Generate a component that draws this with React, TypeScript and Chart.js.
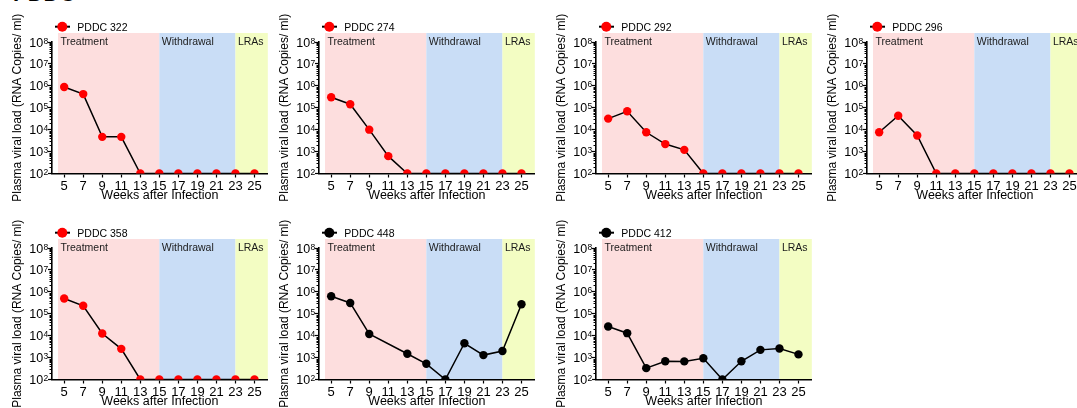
import React, { useEffect, useRef } from 'react';
import { Chart, registerables } from 'chart.js';

Chart.register(...registerables);

const FONT = '"Liberation Sans", Arial, Helvetica, sans-serif';

// ---- data ----
const weeks = [5, 7, 9, 11, 13, 15, 17, 19, 21, 23, 25];
const xTickWeeks = [5, 7, 9, 11, 13, 15, 17, 19, 21, 23, 25];
const yTickExponents = [2, 3, 4, 5, 6, 7, 8];

const phaseNames = ['Treatment', 'Withdrawal', 'LRAs'];
const phaseStarts = [4.35, 15, 23];
const phaseEnds = [15, 23, 26.4];

const pddc322 = [8.9e5, 4.2e5, 4.7e3, 4.7e3, 100, 100, 100, 100, 100, 100, 100];
const pddc274 = [3.0e5, 1.45e5, 1.0e4, 6.2e2, 100, 100, 100, 100, 100, 100, 100];
const pddc292 = [3.2e4, 6.9e4, 7.6e3, 2.2e3, 1.2e3, 100, 100, 100, 100, 100, 100];
const pddc296 = [7.6e3, 4.3e4, 5.4e3, 100, 100, 100, 100, 100, 100, 100, 100];
const pddc358 = [5.0e5, 2.3e5, 1.25e4, 2.5e3, 100, 100, 100, 100, 100, 100, 100];
const pddc448 = [6.3e5, 3.1e5, 1.2e4, null, 1.5e3, 5.2e2, 100, 4.5e3, 1.3e3, 2.0e3, 2.7e5];
const pddc412 = [2.6e4, 1.3e4, 3.3e2, 6.8e2, 6.7e2, 9.3e2, 100, 6.8e2, 2.25e3, 2.6e3, 1.4e3];

// ---- styles / layout ----
const phaseColors = ['#FDDEDE', '#C9DDF6', '#F3FDC3'];
const colLefts = [0, 267, 544, 815];
const rowTops = [0, 206];
const CW = 272;
const CH = 204;

type PanelDef = { label: string; values: (number | null)[]; marker: string; col: number; row: number };

const panels: PanelDef[] = [
  { label: 'PDDC 322', values: pddc322, marker: '#FF0000', col: 0, row: 0 },
  { label: 'PDDC 274', values: pddc274, marker: '#FF0000', col: 1, row: 0 },
  { label: 'PDDC 292', values: pddc292, marker: '#FF0000', col: 2, row: 0 },
  { label: 'PDDC 296', values: pddc296, marker: '#FF0000', col: 3, row: 0 },
  { label: 'PDDC 358', values: pddc358, marker: '#FF0000', col: 0, row: 1 },
  { label: 'PDDC 448', values: pddc448, marker: '#000000', col: 1, row: 1 },
  { label: 'PDDC 412', values: pddc412, marker: '#000000', col: 2, row: 1 },
];

function decoPlugin(label: string, marker: string) {
  return {
    id: 'panelDeco',
    beforeDraw(chart: any) {
      const { ctx, chartArea } = chart;
      const x = chart.scales.x;
      const top = chartArea.top - 9;
      ctx.save();
      phaseStarts.forEach((s, i) => {
        const x0 = x.getPixelForValue(s);
        const x1 = x.getPixelForValue(phaseEnds[i]);
        ctx.fillStyle = phaseColors[i];
        ctx.fillRect(x0, top, x1 - x0, chartArea.bottom - top);
      });
      ctx.fillStyle = '#1a1a1a';
      ctx.font = `10.5px ${FONT}`;
      ctx.textAlign = 'left';
      ctx.textBaseline = 'alphabetic';
      phaseNames.forEach((n, i) => {
        ctx.fillText(n, x.getPixelForValue(phaseStarts[i]) + 2.5, chartArea.top + 2.5);
      });
      ctx.restore();
    },
    afterDraw(chart: any) {
      const { ctx, chartArea } = chart;
      const y = chart.scales.y;
      ctx.save();
      // minor log ticks
      ctx.strokeStyle = '#000';
      ctx.lineWidth = 1;
      for (let p = 2; p < 8; p++) {
        for (let k = 2; k <= 9; k++) {
          const yy = Math.round(y.getPixelForValue(k * Math.pow(10, p))) + 0.5;
          ctx.beginPath();
          ctx.moveTo(chartArea.left - 2.5, yy);
          ctx.lineTo(chartArea.left, yy);
          ctx.stroke();
        }
      }
      // y tick labels 10^n
      ctx.fillStyle = '#000';
      ctx.textAlign = 'right';
      ctx.textBaseline = 'alphabetic';
      yTickExponents.forEach((e) => {
        const yy = y.getPixelForValue(Math.pow(10, e));
        const sup = String(e);
        ctx.font = `8.5px ${FONT}`;
        const sw = ctx.measureText(sup).width;
        const xr = chartArea.left - 3.7;
        ctx.fillText(sup, xr, yy + 1.6);
        ctx.font = `12.5px ${FONT}`;
        ctx.fillText('10', xr - sw - 0.3, yy + 4.5);
      });
      // legend
      const lx = chartArea.left;
      const ly = chartArea.top - 15.3;
      ctx.strokeStyle = '#000';
      ctx.lineWidth = 2;
      ctx.beginPath();
      ctx.moveTo(lx + 3, ly);
      ctx.lineTo(lx + 18, ly);
      ctx.stroke();
      ctx.fillStyle = marker;
      ctx.beginPath();
      ctx.arc(lx + 10.3, ly, 5, 0, Math.PI * 2);
      ctx.fill();
      ctx.fillStyle = '#000';
      ctx.font = `10.5px ${FONT}`;
      ctx.textAlign = 'left';
      ctx.fillText(label, lx + 25.3, chartArea.top - 11.3);
      ctx.restore();
    },
  };
}

function Panel({ def }: { def: PanelDef }) {
  const ref = useRef<HTMLCanvasElement>(null);
  useEffect(() => {
    const canvas = ref.current!;
    const chart = new Chart(canvas, {
      type: 'line',
      data: {
        datasets: [
          {
            label: def.label,
            data: weeks.map((w, i) => ({ x: w, y: def.values[i] })) as any,
            borderColor: '#000',
            borderWidth: 1.5,
            pointRadius: 4.2,
            pointBackgroundColor: def.marker,
            pointBorderColor: def.marker,
            pointBorderWidth: 0,
            spanGaps: true,
            tension: 0,
          },
        ],
      },
      options: {
        responsive: false,
        animation: false,
        devicePixelRatio: 1,
        events: [],
        layout: { padding: { top: 42, left: 0, right: 4, bottom: 0.5 } },
        plugins: { legend: { display: false }, tooltip: { enabled: false } },
        scales: {
          x: {
            type: 'linear',
            min: 3.72,
            max: 26.4,
            afterBuildTicks: (s: any) => {
              s.ticks = xTickWeeks.map((v) => ({ value: v }));
            },
            afterFit: (s: any) => {
              s.height = 30;
            },
            ticks: {
              autoSkip: false,
              maxRotation: 0,
              padding: 1,
              color: '#000',
              font: { size: 13, family: FONT },
              callback: (v: any) => String(v),
            },
            grid: { drawOnChartArea: false, drawTicks: true, tickLength: 4, tickColor: '#000', tickWidth: 1.2 },
            border: { display: true, color: '#000', width: 1.6 },
            title: {
              display: true,
              text: 'Weeks after Infection',
              color: '#000',
              font: { size: 12.5, family: FONT },
              padding: { top: 0, bottom: 0 },
            },
          },
          y: {
            type: 'logarithmic',
            min: 100,
            max: 1e8,
            afterBuildTicks: (s: any) => {
              s.ticks = yTickExponents.map((e) => ({ value: Math.pow(10, e) }));
            },
            afterFit: (s: any) => {
              s.width = 52;
            },
            ticks: { display: false },
            grid: { drawOnChartArea: false, drawTicks: true, tickLength: 4, tickColor: '#000', tickWidth: 1.2 },
            border: { display: true, color: '#000', width: 1.6 },
            title: {
              display: true,
              text: 'Plasma viral load (RNA Copies/ ml)',
              color: '#000',
              font: { size: 12, family: FONT },
              padding: { top: 10.8, bottom: 0 },
            },
          },
        },
      } as any,
      plugins: [decoPlugin(def.label, def.marker)],
    });
    return () => chart.destroy();
  }, []);
  return (
    <canvas
      ref={ref}
      width={CW}
      height={CH}
      style={{ position: 'absolute', left: colLefts[def.col], top: rowTops[def.row], width: CW, height: CH }}
    />
  );
}

export default function App() {
  return (
    <div
      style={{
        position: 'fixed',
        left: 0,
        top: 0,
        width: 1077,
        height: 408,
        overflow: 'hidden',
        background: '#fff',
      }}
    >
      <div
        style={{
          position: 'absolute',
          left: 13,
          top: -17,
          fontFamily: FONT,
          fontWeight: 'bold',
          fontSize: 22,
          lineHeight: '22px',
          color: '#000',
        }}
      >
        PDDC
      </div>
      {panels.map((p) => (
        <Panel key={p.label} def={p} />
      ))}
    </div>
  );
}
